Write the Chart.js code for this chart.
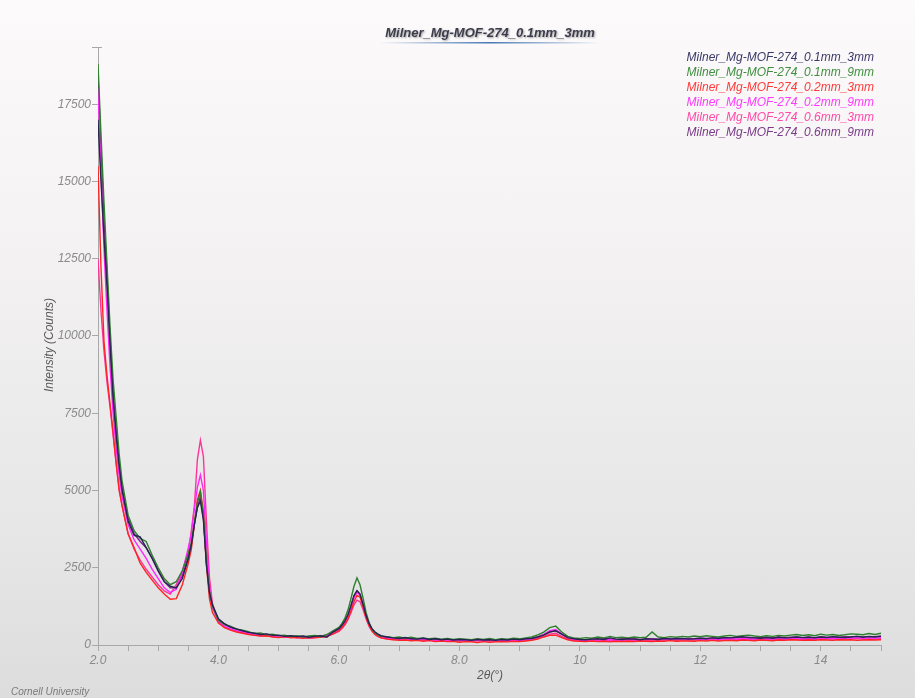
<!DOCTYPE html>
<html><head><meta charset="utf-8">
<script src="https://cdn.jsdelivr.net/npm/chart.js@4.4.1/dist/chart.umd.min.js"></script>
<style>
html,body{margin:0;padding:0;overflow:hidden;}
#wrap{position:relative;width:915px;height:698px;background:linear-gradient(to bottom,#fcfafa 0%,#f4f2f2 35%,#e7e7e7 75%,#dddddd 100%);}
</style></head><body>
<div id="wrap"><canvas id="c"></canvas></div>
<script>
const TITLE = "Milner_Mg-MOF-274_0.1mm_3mm";
const SERIES_NAMES = ["Milner_Mg-MOF-274_0.1mm_3mm","Milner_Mg-MOF-274_0.1mm_9mm","Milner_Mg-MOF-274_0.2mm_3mm","Milner_Mg-MOF-274_0.2mm_9mm","Milner_Mg-MOF-274_0.6mm_3mm","Milner_Mg-MOF-274_0.6mm_9mm"];
const X_LABELS = {2:"2.0",4:"4.0",6:"6.0",8:"8.0",10:"10",12:"12",14:"14"};
const Y_TICKS = [0,2500,5000,7500,10000,12500,15000,17500,19350];

const TWO_THETA = [
2.0,2.05,2.1,2.15,2.2,2.25,2.3,2.35,2.4,
2.5,2.6,2.7,2.8,2.9,3.0,3.1,3.2,3.3,3.4,3.5,
3.55,3.6,3.65,3.7,3.75,3.8,3.85,3.9,
4.0,4.1,4.2,4.3,4.4,4.5,4.6,4.7,4.8,4.9,5.0,5.1,5.2,5.3,5.4,5.5,5.6,5.7,5.8,5.9,6.0,
6.05,6.1,6.15,6.2,6.25,6.3,6.35,6.4,6.45,6.5,6.55,6.6,6.65,6.7,
6.8,6.9,7.0,7.1,7.2,7.3,7.4,7.5,7.6,7.7,
7.8,7.9,8.0,8.1,8.2,8.3,8.4,8.5,8.6,8.7,
8.8,8.9,9.0,9.1,9.2,9.3,9.4,9.5,9.6,9.7,
9.8,9.9,10.0,10.1,10.2,10.3,10.4,10.5,10.6,10.7,
10.8,10.9,11.0,11.1,11.2,11.3,11.4,11.5,11.6,11.7,
11.8,11.9,12.0,12.1,12.2,12.3,12.4,12.5,12.6,12.7,
12.8,12.9,13.0,13.1,13.2,13.3,13.4,13.5,13.6,13.7,
13.8,13.9,14.0,14.1,14.2,14.3,14.4,14.5,14.6,14.7,
14.8,14.9,15.0];

const mm01_3 = [
17000,15000,13200,11600,9700,8000,6800,5800,5000,
4000,3550,3500,3150,2800,2400,2050,1900,1850,2150,2800,
3250,3900,4450,4650,4050,2600,1700,1300,
850,690,580,520,460,410,380,340,360,310,320,280,300,270,290,250,280,300,250,420,530,
640,780,980,1280,1600,1760,1650,1320,960,700,520,420,350,300,
260,230,210,240,200,190,220,180,200,170,
190,160,180,170,150,180,160,170,150,180,
160,190,170,200,210,260,320,420,460,350,
240,200,180,170,190,200,180,230,190,180,
200,190,170,200,190,180,210,190,200,210,
190,200,220,200,230,210,240,230,250,270,
240,230,220,240,220,250,230,240,260,240,
250,230,260,240,270,250,240,260,280,250,
270,260,280];

const mm01_9 = [
18800,16500,14300,12300,10300,8600,7400,6200,5300,
4200,3700,3450,3350,2900,2500,2150,1950,2050,2400,2950,
3300,3950,4600,4950,4200,2700,1750,1250,
800,660,610,510,480,430,370,390,330,350,300,320,270,300,260,290,310,270,340,460,570,
700,870,1130,1500,1900,2170,1950,1520,1060,730,520,400,330,280,
270,240,260,220,250,210,230,200,220,190,
210,180,200,190,170,200,180,210,170,200,
190,220,200,230,260,330,420,560,610,420,
280,230,210,240,220,260,230,280,240,250,
230,260,240,250,420,260,240,270,250,280,
260,290,270,300,280,260,290,310,280,300,
320,290,270,300,280,310,290,320,340,310,
330,300,350,320,340,310,330,360,350,330,
370,340,380];

const mm02_3 = [
15500,12200,9800,8700,7800,6900,5900,5000,4500,
3600,3150,2650,2350,2100,1850,1650,1480,1500,1950,2650,
3100,3900,4700,5000,4300,2600,1500,1050,
710,560,480,420,380,340,310,290,300,260,240,270,230,250,220,240,230,260,280,360,460,
560,680,850,1100,1400,1600,1550,1250,900,640,460,350,280,230,
190,170,150,160,140,150,120,140,110,130,
110,120,90,110,100,80,110,90,100,110,
100,120,110,130,150,190,260,310,320,240,
170,130,120,110,130,110,120,100,120,110,
120,110,130,120,110,130,120,140,120,130,
130,120,140,130,150,130,140,150,140,160,
150,140,160,150,140,160,150,170,160,150,
160,150,170,160,150,170,160,170,150,160,
170,160,170];

const mm02_9 = [
18000,15300,12800,10800,9000,7500,6400,5500,4800,
3900,3400,3100,2800,2450,2150,1850,1700,1800,2350,3150,
3600,4400,5100,5500,5000,3300,1900,1200,
760,610,520,460,420,370,340,310,320,280,290,260,270,240,260,230,250,270,300,390,500,
600,740,930,1200,1520,1700,1620,1300,950,680,500,380,310,260,
220,200,210,180,190,170,180,160,170,150,
170,140,160,150,130,160,140,150,130,150,
140,160,150,170,200,250,340,460,500,360,
230,180,160,150,170,160,180,170,160,180,
170,180,160,170,190,170,180,170,190,180,
180,190,170,190,200,180,200,210,190,200,
210,190,200,210,190,220,200,210,220,200,
220,200,230,210,220,200,230,220,240,210,
230,220,240];

const mm06_3 = [
12500,10800,9500,8500,7700,6800,5900,5100,4500,
3600,3100,2750,2450,2200,1950,1750,1650,1950,2400,3000,
3700,4500,6000,6630,6100,4000,2200,1350,
730,580,500,440,400,350,320,300,290,270,260,250,260,230,240,220,240,250,280,350,440,
530,650,820,1040,1300,1450,1400,1150,850,600,440,330,270,230,
200,180,190,170,160,170,150,160,140,150,
140,150,130,140,120,140,130,140,120,130,
130,140,130,150,170,210,280,350,380,280,
190,150,140,130,150,140,160,140,150,140,
150,160,140,150,160,150,170,160,150,170,
160,170,160,180,170,160,180,170,190,180,
180,170,190,180,170,190,180,190,200,180,
190,180,200,190,200,180,200,190,210,190,
200,190,210];

const mm06_9 = [
18500,16000,13800,11900,9900,8200,7000,5900,5100,
4100,3600,3350,3150,2800,2400,2050,1850,1850,2250,2850,
3250,3900,4450,4800,4100,2700,1750,1250,
820,670,570,500,450,400,370,340,340,310,300,290,290,270,280,260,270,290,320,410,510,
620,760,960,1250,1580,1750,1640,1300,950,690,510,400,330,280,
240,220,210,220,200,190,200,180,190,170,
180,160,170,160,150,170,150,160,150,170,
160,180,170,190,210,260,340,430,470,350,
240,200,180,170,190,180,200,190,180,200,
190,200,180,190,200,190,210,200,210,200,
210,200,220,210,230,220,240,230,250,240,
250,230,240,250,230,260,240,250,260,240,
260,240,270,250,260,250,270,260,280,260,
280,270,290];

const LINE_COLORS = ["#25254f","#2f7f2f","#ff2323","#ff25ff","#ff3399","#7d1f8d"];
const LEGEND_COLORS = ["#3a3a6a","#3f8f3f","#ff3a3a","#ff3aff","#ff4aa8","#7a3a8a"];
const ALL = [mm01_3, mm01_9, mm02_3, mm02_9, mm06_3, mm06_9];
ALL.forEach((a,i)=>{ if (a.length!==TWO_THETA.length) console.error("length mismatch", i, a.length, TWO_THETA.length); });

const FONT = '"Liberation Sans", Arial, sans-serif';

const decor = {
  id: 'decor',
  afterDraw(chart) {
    const ctx = chart.ctx;
    ctx.save();
    ctx.font = 'italic bold 13px ' + FONT;
    ctx.textAlign = 'center';
    ctx.textBaseline = 'middle';
    ctx.shadowColor = 'rgba(0,0,0,0.35)';
    ctx.shadowOffsetX = 1; ctx.shadowOffsetY = 1; ctx.shadowBlur = 2;
    ctx.fillStyle = '#3c3c4c';
    ctx.fillText(TITLE, 490, 33);
    ctx.shadowColor = 'transparent';
    const g = ctx.createLinearGradient(380, 0, 600, 0);
    g.addColorStop(0, 'rgba(70,120,180,0)');
    g.addColorStop(0.5, 'rgba(70,120,180,1)');
    g.addColorStop(1, 'rgba(70,120,180,0)');
    ctx.fillStyle = g;
    ctx.fillRect(380, 42, 220, 1.5);
    ctx.font = 'italic 12px ' + FONT;
    ctx.textAlign = 'right';
    SERIES_NAMES.forEach((n, i) => {
      ctx.fillStyle = LEGEND_COLORS[i];
      ctx.fillText(n, 874, 58 + 15 * i);
    });
    ctx.fillStyle = '#5a5a5a';
    ctx.textAlign = 'center';
    ctx.fillText('2θ(°)', 490, 676);
    ctx.save();
    ctx.translate(50, 345);
    ctx.rotate(-Math.PI / 2);
    ctx.fillText('Intensity (Counts)', 0, 0);
    ctx.restore();
    ctx.font = 'italic 10px ' + FONT;
    ctx.textAlign = 'left';
    ctx.fillStyle = '#7a7a7a';
    ctx.fillText('Cornell University', 11, 692);
    const a = chart.chartArea;
    ctx.strokeStyle = '#a8a8a8';
    ctx.lineWidth = 1;
    ctx.beginPath();
    ctx.moveTo(a.left - 3, a.top + 0.5);
    ctx.lineTo(a.left + 4, a.top + 0.5);
    ctx.stroke();
    ctx.restore();
  }
};

const datasets = ALL.map((arr, i) => ({
  label: SERIES_NAMES[i],
  data: TWO_THETA.map((x, j) => ({x: x, y: arr[j]})),
  borderColor: LINE_COLORS[i],
  backgroundColor: LINE_COLORS[i],
  borderWidth: 1.4,
  pointRadius: 0,
  tension: 0,
  fill: false
}));

new Chart(document.getElementById('c'), {
  type: 'line',
  data: { datasets },
  options: {
    responsive: true,
    maintainAspectRatio: false,
    animation: false,
    layout: { padding: { top: 47, right: 34, left: 0, bottom: 0 } },
    plugins: { legend: { display: false }, title: { display: false }, tooltip: { enabled: false } },
    scales: {
      x: {
        type: 'linear', min: 2, max: 15,
        afterFit(s) { s.height = 53; },
        border: { display: true, color: '#a8a8a8' },
        grid: { drawOnChartArea: false, drawTicks: true, tickLength: 6, color: '#a8a8a8', tickColor: '#a8a8a8' },
        ticks: {
          stepSize: 0.5, autoSkip: false, maxRotation: 0, minRotation: 0, padding: 2,
          color: '#8a8a8a', font: { family: FONT, size: 12, style: 'italic' },
          callback(v) { const r = Math.round(v * 100) / 100; return X_LABELS[r] !== undefined ? X_LABELS[r] : ''; }
        }
      },
      y: {
        min: 0, max: 19350,
        afterFit(s) { s.width = 98; },
        afterBuildTicks(s) { s.ticks = Y_TICKS.map(v => ({ value: v })); },
        border: { display: true, color: '#a8a8a8' },
        grid: { drawOnChartArea: false, drawTicks: true, tickLength: 6, color: '#a8a8a8', tickColor: '#a8a8a8' },
        ticks: {
          autoSkip: false, padding: 1,
          color: '#8a8a8a', font: { family: FONT, size: 12, style: 'italic' },
          callback(v) { return (v % 2500 === 0) ? String(v) : ''; }
        }
      }
    }
  },
  plugins: [decor]
});
</script>
</body></html>
